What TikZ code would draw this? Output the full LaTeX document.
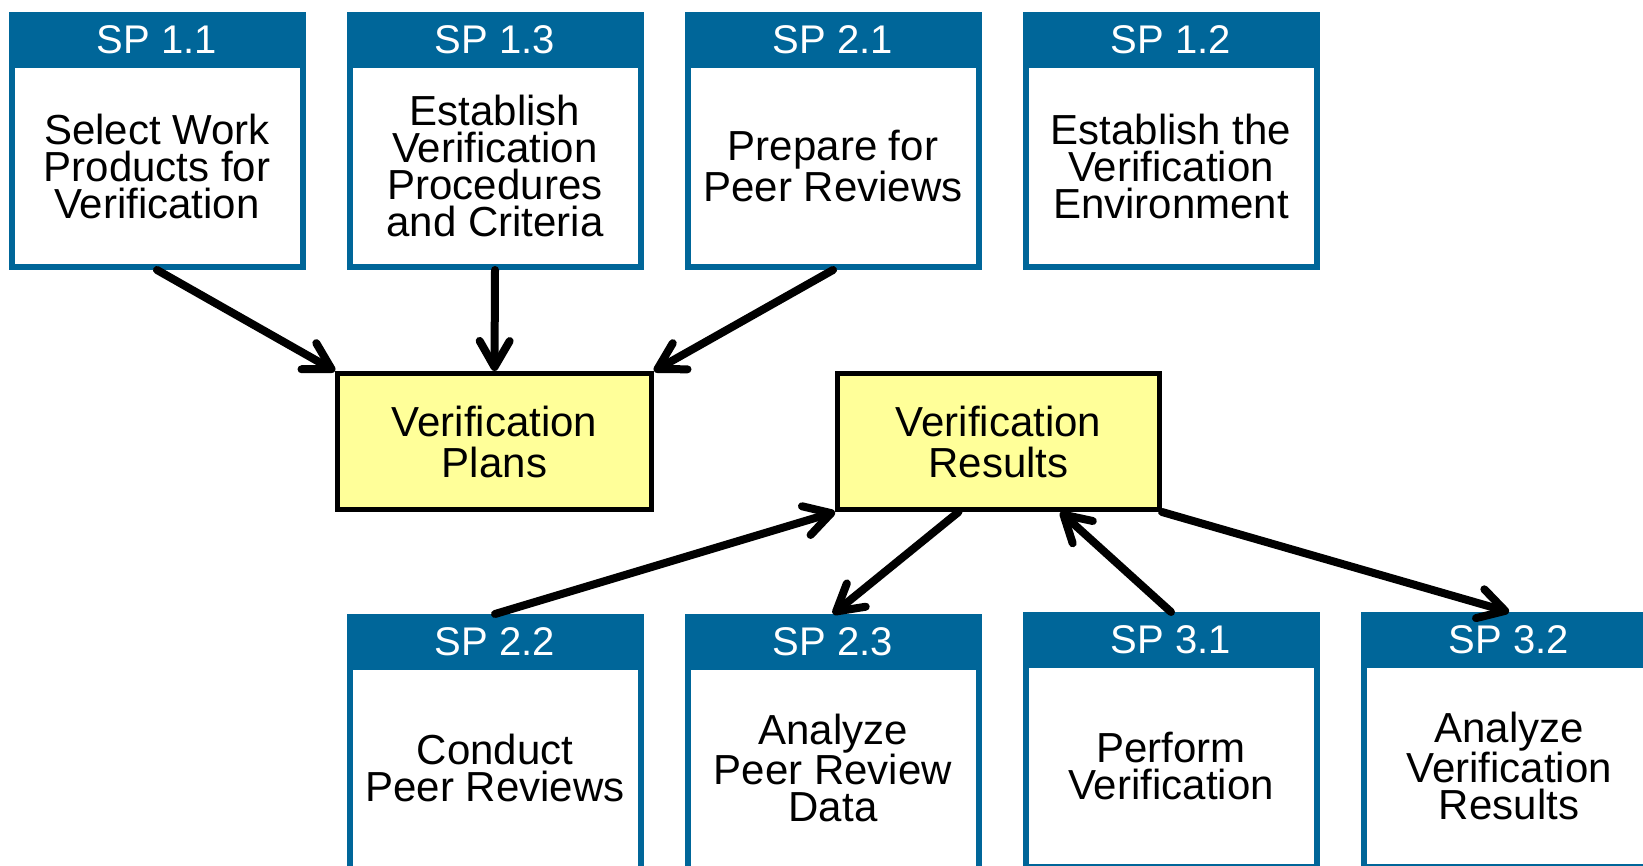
\documentclass[tikz,border=0pt]{standalone}
\usepackage{fontspec}
\setmainfont{Liberation Sans}
\usetikzlibrary{arrows.meta}
\definecolor{spblue}{RGB}{0,102,153}
\definecolor{ylw}{RGB}{255,255,153}
\begin{document}
\begin{tikzpicture}[x=1pt,y=-1pt,
 spbox/.style={rectangle, draw=spblue, line width=6pt, fill=white, minimum width=291pt, minimum height=252pt, inner sep=0pt},
 sphead/.style={rectangle, fill=spblue, text=white, minimum width=297pt, minimum height=56pt, inner sep=0pt, outer sep=0pt, font=\fontsize{40}{40}\selectfont, anchor=north},
 sptext/.style={align=center, font=\fontsize{42}{37}\selectfont, inner sep=0pt},
 result/.style={rectangle, draw=black, line width=5pt, fill=ylw, align=center, font=\fontsize{42}{41}\selectfont, inner sep=0pt, minimum height=136pt},
 arr/.style={line width=8pt, line cap=round, -{Straight Barb[length=26pt,width=30pt,line cap=round,line join=round]}}
]
\useasboundingbox (0,0) rectangle (1643,866);
\clip (0,0) rectangle (1643,866);

% top row
\node[spbox] (sp11) at (157,141) {};
\node[sphead] (h11) at (sp11.north) {SP 1.1};
\node[sptext] (t11) at ([yshift=-25pt]sp11.center) {Select Work\\Products for\\Verification};

\node[spbox] (sp13) at (495,141) {};
\node[sphead] (h13) at (sp13.north) {SP 1.3};
\node[sptext] (t13) at ([yshift=-25pt]sp13.center) {Establish\\Verification\\Procedures\\and Criteria};

\node[spbox] (sp21) at (833,141) {};
\node[sphead] (h21) at (sp21.north) {SP 2.1};
\node[sptext] (t21) at ([yshift=-25pt]sp21.center) {Prepare for\\Peer Reviews};

\node[spbox] (sp12) at (1171,141) {};
\node[sphead] (h12) at (sp12.north) {SP 1.2};
\node[sptext] (t12) at ([yshift=-25pt]sp12.center) {Establish the\\Verification\\Environment};

% bottom row
\node[spbox] (sp22) at (495,743) {};
\node[sphead] (h22) at (sp22.north) {SP 2.2};
\node[sptext] (t22) at ([yshift=-25pt]sp22.center) {Conduct\\Peer Reviews};

\node[spbox] (sp23) at (833,743) {};
\node[sphead] (h23) at (sp23.north) {SP 2.3};
\node[sptext] (t23) at ([yshift=-25pt]sp23.center) {Analyze\\Peer Review\\Data};

\node[spbox] (sp31) at (1171,741) {};
\node[sphead] (h31) at (sp31.north) {SP 3.1};
\node[sptext] (t31) at ([yshift=-25pt]sp31.center) {Perform\\Verification};

\node[spbox] (sp32) at (1509,741) {};
\node[sphead] (h32) at (sp32.north) {SP 3.2};
\node[sptext] (t32) at ([yshift=-25pt]sp32.center) {Analyze\\Verification\\Results};

% work products
\node[result, minimum width=314pt] (vp) at (494.5,441.5) {Verification\\Plans};
\node[result, minimum width=322pt] (vr) at (998.5,441.5) {Verification\\Results};

% connectors
\draw[arr] (sp11.south) -- (vp.north west);
\draw[arr] (sp13.south) -- (vp.north);
\draw[arr] (sp21.south) -- (vp.north east);
\draw[arr] (sp22.north) -- (vr.south west);
\draw[arr] ([xshift=-40pt]vr.south) -- (sp23.north);
\draw[arr] (sp31.north) -- ([xshift=62pt]vr.south);
\draw[arr] (vr.south east) -- (sp32.north);
\end{tikzpicture}
\end{document}
